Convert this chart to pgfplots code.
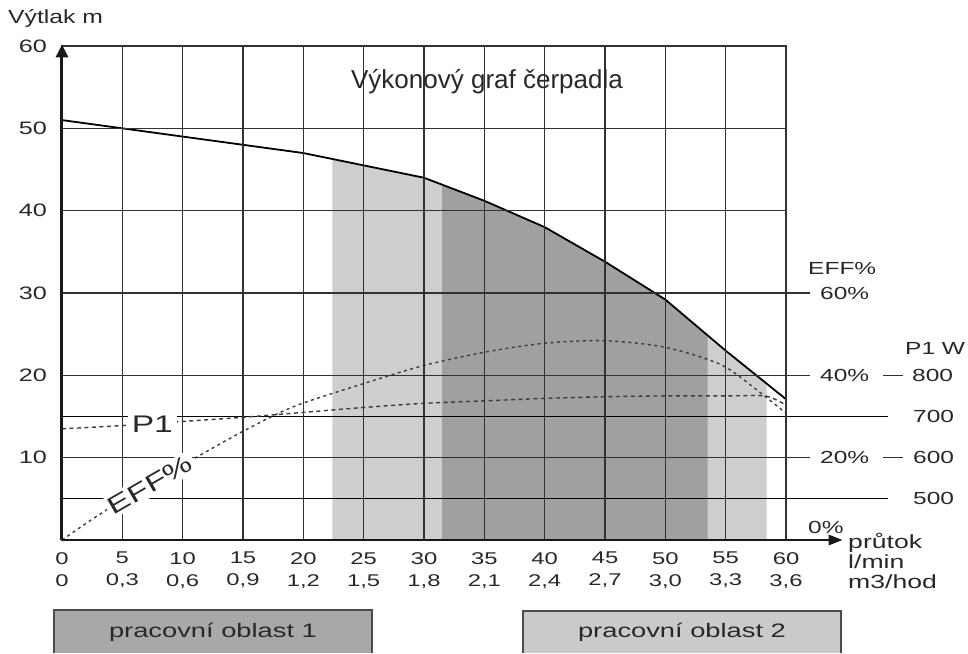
\documentclass[border=0pt]{standalone}
\usepackage{pgfplots}
\pgfplotsset{compat=1.18}
\usepackage{fontspec}
\setmainfont{Liberation Sans}
\newfontfamily\wide[FakeStretch=1.4]{Liberation Sans}
\newfontfamily\widea[FakeStretch=1.3]{Liberation Sans}
\usetikzlibrary{arrows.meta}
\definecolor{gridc}{RGB}{50,50,50}
\definecolor{txt}{RGB}{40,40,40}
\definecolor{darkfill}{RGB}{160,160,160}
\definecolor{lightfill}{RGB}{206,206,206}
\definecolor{boxa}{RGB}{168,168,168}
\definecolor{boxb}{RGB}{202,202,202}
\definecolor{border}{RGB}{75,75,75}
\definecolor{dashc}{RGB}{60,60,60}
\begin{document}
\begin{tikzpicture}
\begin{axis}[
  axis on top,
  at={(0pt,0pt)}, anchor=south west,
  scale only axis, width=724pt, height=494pt,
  xmin=0, xmax=60, ymin=0, ymax=60,
  clip=false,
  xtick={0,5,...,60},
  ytick={10,20,...,60},
  xticklabels={{0\\0},{5\\0,3},{10\\0,6},{15\\0,9},{20\\1,2},{25\\1,5},{30\\1,8},{35\\2,1},{40\\2,4},{45\\2,7},{50\\3,0},{55\\3,3},{60\\3,6}},
  yticklabels={10,20,30,40,50,60},
  major tick length=0pt,
  grid=major,
  grid style={line width=1.4pt, color=gridc},
  axis line style={line width=1.4pt, color=gridc},
  xticklabel style={align=center, font=\wide\fontsize{17}{22}\selectfont, inner sep=0pt, anchor=north, yshift=-12pt, text=txt},
  yticklabel style={font=\wide\fontsize{18}{20}\selectfont, inner sep=0pt, anchor=east, xshift=-15pt, text=txt},
]
% working areas
\addplot[draw=none, fill=lightfill] coordinates {(22.4,0) (22.4,46.28) (25,45.5) (30,44) (35,41.2) (40,38) (45,33.8) (50,29.2) (55,23) (58.4,18.99) (58.4,0)};
\addplot[draw=none, fill=darkfill] coordinates {(31.5,0) (31.5,43.16) (35,41.2) (40,38) (45,33.8) (50,29.2) (53.5,24.86) (53.5,0)};
% extra horizontal lines
\draw[black, line width=0.9pt] (axis cs:0,5) -- (axis cs:68.45,5);
\draw[black, line width=0.9pt] (axis cs:0,15) -- (axis cs:68.45,15);
\draw[gridc, line width=1.4pt] (axis cs:60,30) -- (axis cs:62,30);
\draw[gridc, line width=1.4pt] (axis cs:60,20) -- (axis cs:62,20);
\draw[gridc, line width=1.4pt] (axis cs:60,10) -- (axis cs:62,10);
\draw[gridc, line width=1.4pt] (axis cs:68.04,20) -- (axis cs:69.7,20);
\draw[gridc, line width=1.4pt] (axis cs:68.04,10) -- (axis cs:69.7,10);
% head curve
\addplot[black, line width=1.8pt] coordinates {(0,51.0) (5,50) (10,49) (15,48) (20,47) (25,45.5) (30,44) (35,41.2) (40,38) (45,33.8) (50,29.2) (55,23) (60,17.1)};
% P1 curve
\addplot[dashc, line width=1.4pt, dash pattern=on 4pt off 3.5pt, smooth, tension=0.4] coordinates {(0,13.5) (5,13.9) (10,14.4) (15,14.9) (20,15.5) (25,16.1) (30,16.6) (35,16.9) (40,17.2) (45,17.4) (50,17.5) (55,17.5) (58.3,17.5) (60,16.4)};
% EFF curve
\addplot[dashc, line width=1.4pt, dash pattern=on 3pt off 3.5pt, smooth, tension=0.5] coordinates {(0,0) (3,3) (7,6.6) (11.2,10.1) (15,13.2) (19.2,16.2) (25,19) (30,21.2) (35,22.8) (40,23.9) (45,24.2) (50,23.4) (54.6,21.3) (57.6,18.2) (60,15.4)};
\end{axis}
% axes with arrows
\draw[black!90, line width=3pt, -{Triangle[length=13pt, width=12pt]}] (0pt,0pt) -- (0pt,495.6pt);
\draw[black!90, line width=2.6pt, -{Triangle[length=14pt, width=10pt]}] (0pt,0pt) -- (780.7pt,0pt);
% labels in plot
\node[fill=white, inner sep=4pt, font=\wide\fontsize{24}{26}\selectfont, text=txt] at (90.3pt,116.1pt) {P1};
\node[fill=white, inner sep=3pt, rotate=30, font=\wide\fontsize{24}{26}\selectfont, text=txt] at (88.1pt,55.2pt) {EFF\%};
% title
\node[anchor=base, font=\fontsize{26}{28}\selectfont, text=txt] at (425pt,451.7pt) {Výkonový graf čerpadla};
% y label
\node[anchor=west, inner sep=0pt, font=\widea\fontsize{19}{21}\selectfont, text=txt] at (-54pt,522pt) {Výtlak m};
% right labels
\begin{scope}[every node/.style={anchor=west, inner sep=0pt, text=txt, font=\wide\fontsize{17.5}{20}\selectfont}]
\node at (746pt,272pt) {EFF\%};
\node at (758pt,247pt) {60\%};
\node at (843pt,192pt) {P1 W};
\node at (758pt,164.67pt) {40\%};
\node at (850pt,164.67pt) {800};
\node at (851pt,123.5pt) {700};
\node at (758pt,82.33pt) {20\%};
\node at (851pt,82.33pt) {600};
\node at (851pt,41.17pt) {500};
\node at (746pt,13pt) {0\%};
\end{scope}
\begin{scope}[every node/.style={anchor=base west, inner sep=0pt, text=txt, font=\wide\fontsize{19}{20}\selectfont}]
\node at (786pt,-8pt) {průtok};
\node at (786pt,-28pt) {l/min};
\node at (786pt,-48pt) {m3/hod};
\end{scope}
% bottom boxes (cut by the lower edge, as in the reference)
\fill[boxa] (-8pt,-70pt) rectangle (310pt,-113pt);
\draw[border, line width=1.6pt] (-8pt,-113pt) -- (-8pt,-70pt) -- (310pt,-70pt) -- (310pt,-113pt);
\node[font=\wide\fontsize{19.5}{21}\selectfont, text=txt] at (151pt,-92pt) {pracovní oblast 1};
\fill[boxb] (461pt,-71pt) rectangle (779pt,-113pt);
\draw[border, line width=1.6pt] (461pt,-113pt) -- (461pt,-71pt) -- (779pt,-71pt) -- (779pt,-113pt);
\node[font=\wide\fontsize{19.5}{21}\selectfont, text=txt] at (620pt,-92pt) {pracovní oblast 2};
\path (-62pt,-113pt) rectangle (906pt,540pt);
\end{tikzpicture}
\end{document}
